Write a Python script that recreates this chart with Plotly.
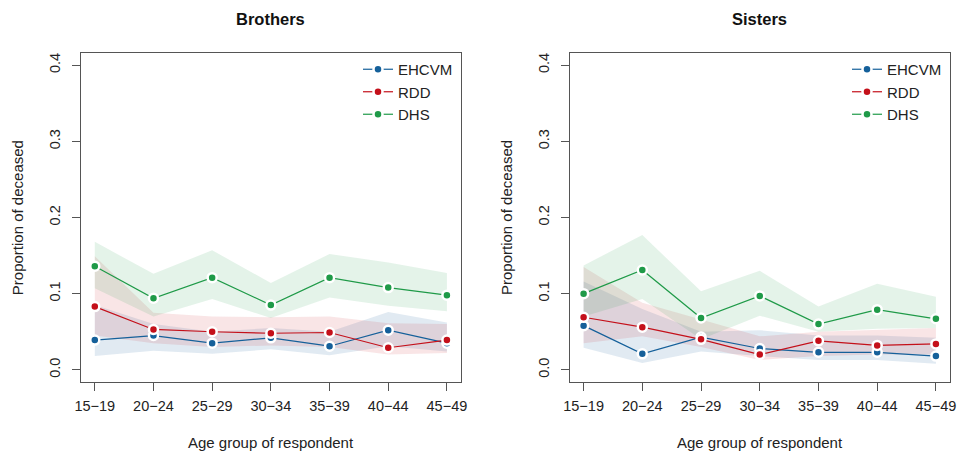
import plotly.graph_objects as go

ages = ["15−19", "20−24", "25−29", "30−34", "35−39", "40−44", "45−49"]
series_names = ["EHCVM", "RDD", "DHS"]
colors = ["#15609a", "#c4101a", "#1f9a48"]
band_colors = ["rgba(21,96,154,0.13)", "rgba(196,16,26,0.11)", "rgba(31,154,72,0.12)"]

# Brothers
bro_ehcvm = [0.039, 0.045, 0.035, 0.042, 0.031, 0.052, 0.035]
bro_ehcvm_lo = [0.018, 0.025, 0.021, 0.027, 0.019, 0.031, 0.024]
bro_ehcvm_hi = [0.085, 0.060, 0.050, 0.055, 0.050, 0.076, 0.062]
bro_rdd = [0.083, 0.053, 0.050, 0.048, 0.049, 0.029, 0.039]
bro_rdd_lo = [0.045, 0.035, 0.030, 0.032, 0.030, 0.020, 0.022]
bro_rdd_hi = [0.149, 0.075, 0.070, 0.069, 0.070, 0.061, 0.060]
bro_dhs = [0.136, 0.094, 0.121, 0.085, 0.121, 0.108, 0.098]
bro_dhs_lo = [0.107, 0.070, 0.093, 0.068, 0.095, 0.084, 0.077]
bro_dhs_hi = [0.168, 0.126, 0.157, 0.114, 0.152, 0.141, 0.127]

# Sisters
sis_ehcvm = [0.058, 0.021, 0.043, 0.028, 0.023, 0.023, 0.018]
sis_ehcvm_lo = [0.029, 0.009, 0.024, 0.018, 0.013, 0.013, 0.008]
sis_ehcvm_hi = [0.116, 0.080, 0.050, 0.052, 0.045, 0.045, 0.042]
sis_rdd = [0.069, 0.056, 0.040, 0.020, 0.038, 0.032, 0.034]
sis_rdd_lo = [0.035, 0.044, 0.030, 0.013, 0.018, 0.020, 0.020]
sis_rdd_hi = [0.135, 0.088, 0.066, 0.044, 0.050, 0.052, 0.055]
sis_dhs = [0.100, 0.131, 0.068, 0.097, 0.060, 0.079, 0.067]
sis_dhs_lo = [0.070, 0.093, 0.040, 0.071, 0.050, 0.054, 0.055]
sis_dhs_hi = [0.137, 0.177, 0.103, 0.130, 0.083, 0.113, 0.096]

y_ticks = [0, 0.1, 0.2, 0.3, 0.4]
y_ticklabels = ["0.0", "0.1", "0.2", "0.3", "0.4"]

panels = [
    ("Brothers", [(bro_ehcvm, bro_ehcvm_lo, bro_ehcvm_hi),
                  (bro_rdd, bro_rdd_lo, bro_rdd_hi),
                  (bro_dhs, bro_dhs_lo, bro_dhs_hi)]),
    ("Sisters", [(sis_ehcvm, sis_ehcvm_lo, sis_ehcvm_hi),
                 (sis_rdd, sis_rdd_lo, sis_rdd_hi),
                 (sis_dhs, sis_dhs_lo, sis_dhs_hi)]),
]

FONT = "Liberation Sans, Arial, sans-serif"
W, H = 961, 453
xdoms = [[80.7 / W, 461 / W], [569.5 / W, 950 / W]]
ydom = [1 - 382 / H, 1 - 53 / H]

fig = go.Figure()
xs = list(range(len(ages)))

for p, (title, data) in enumerate(panels):
    xa = "x" if p == 0 else "x2"
    ya = "y" if p == 0 else "y2"
    leg = "legend" if p == 0 else "legend2"
    for i, (vals, lo, hi) in enumerate(data):
        fig.add_trace(go.Scatter(
            x=xs + xs[::-1], y=hi + lo[::-1], fill="toself",
            fillcolor=band_colors[i], line=dict(width=0), mode="lines",
            hoverinfo="skip", showlegend=False, xaxis=xa, yaxis=ya))
    for i, (vals, lo, hi) in enumerate(data):
        fig.add_trace(go.Scatter(
            x=xs, y=vals, mode="lines+markers", name=series_names[i],
            line=dict(color=colors[i], width=1.2),
            marker=dict(color=colors[i], size=9, line=dict(color="white", width=2.5)),
            xaxis=xa, yaxis=ya, legend=leg))

axis_common = dict(showline=True, mirror=True, linecolor="#555555", linewidth=1,
                   ticks="outside", ticklen=8, tickcolor="#555555", showgrid=False,
                   zeroline=False, automargin=False,
                   tickfont=dict(family=FONT, size=14.5, color="#222"))

annotations = []
for p, (title, data) in enumerate(panels):
    cx = (xdoms[p][0] + xdoms[p][1]) / 2
    annotations.append(dict(text="<b>%s</b>" % title, x=cx, y=1 - 19 / H, xref="paper", yref="paper",
                            showarrow=False, font=dict(size=16.5, family=FONT, color="#111"),
                            xanchor="center", yanchor="middle"))
    annotations.append(dict(text="Age group of respondent", x=cx, y=1 - 442 / H, xref="paper", yref="paper",
                            showarrow=False, font=dict(size=15, family=FONT, color="#222"),
                            xanchor="center", yanchor="middle"))
    annotations.append(dict(text="Proportion of deceased", x=(xdoms[p][0] * W - 63) / W,
                            y=(ydom[0] + ydom[1]) / 2, xref="paper", yref="paper", textangle=-90,
                            showarrow=False, font=dict(size=15, family=FONT, color="#222"),
                            xanchor="center", yanchor="middle"))

fig.update_layout(
    width=W, height=H, margin=dict(l=0, r=0, t=0, b=0),
    paper_bgcolor="white", plot_bgcolor="white",
    font=dict(family=FONT, size=14, color="#222"),
    xaxis=dict(domain=xdoms[0], range=[-0.24, 6.24], tickvals=xs, ticktext=ages, anchor="y",
               ticklabelstandoff=3, **axis_common),
    xaxis2=dict(domain=xdoms[1], range=[-0.24, 6.24], tickvals=xs, ticktext=ages, anchor="y2",
                ticklabelstandoff=3, **axis_common),
    yaxis=dict(domain=ydom, range=[-0.016, 0.416], tickvals=y_ticks, ticktext=y_ticklabels,
               tickangle=-90, anchor="x", ticklabelstandoff=6, **axis_common),
    yaxis2=dict(domain=ydom, range=[-0.016, 0.416], tickvals=y_ticks, ticktext=y_ticklabels,
                tickangle=-90, anchor="x2", ticklabelstandoff=6, **axis_common),
    legend=dict(x=358 / W, y=1 - 53 / H, xanchor="left", yanchor="top",
                bgcolor="rgba(0,0,0,0)", font=dict(size=15), itemwidth=30, tracegroupgap=0),
    legend2=dict(x=847 / W, y=1 - 53 / H, xanchor="left", yanchor="top",
                 bgcolor="rgba(0,0,0,0)", font=dict(size=15), itemwidth=30, tracegroupgap=0),
    annotations=annotations,
)

fig.write_html("out.html", config={"displayModeBar": False},
               post_script="document.body.style.margin='0';document.body.style.overflow='hidden';")
